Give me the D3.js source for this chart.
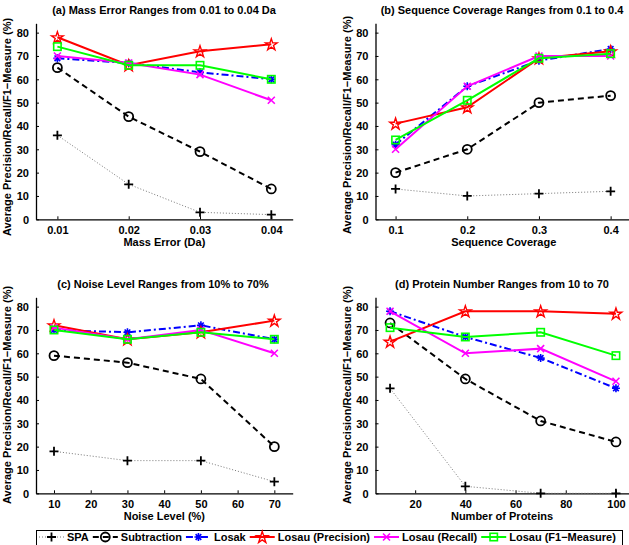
<!DOCTYPE html>
<html>
<head>
<meta charset="utf-8">
<script src="https://cdn.jsdelivr.net/npm/d3@7"></script>
<style>
  body { margin: 0; background: #fff; }
  svg text { font-family: "Liberation Sans", Arial, Helvetica, sans-serif; font-weight: bold; fill: #000; }
</style>
</head>
<body>
<div id="wrap"></div>
<script>
// series order used in every panel
const seriesNames = ["SPA", "Subtraction", "Losak", "Losau (Precision)", "Losau (Recall)", "Losau (F1\u2212Measure)"];

// (a) mass error
const massX = [0.01, 0.02, 0.03, 0.04];
const massTicks = [0.01, 0.02, 0.03, 0.04];
const massRows = [
  [36, 15, 3, 2],
  [65, 44, 29, 13],
  [69, 67, 63, 60],
  [78, 66, 72, 75],
  [70, 67, 62, 51],
  [74, 66, 66, 60]
];

// (b) sequence coverage
const coverX = [0.1, 0.2, 0.3, 0.4];
const coverTicks = [0.1, 0.2, 0.3, 0.4];
const coverRows = [
  [13, 10, 11, 12],
  [20, 30, 50, 53],
  [32, 57, 68, 73],
  [41, 48, 69, 72],
  [30, 57, 70, 70],
  [34, 51, 69, 71]
];

// (c) noise level
const noiseX = [10, 30, 50, 70];
const noiseTicks = [10, 20, 30, 40, 50, 60, 70];
const noiseRows = [
  [18, 14, 14, 5],
  [59, 56, 49, 20],
  [70, 69, 72, 66],
  [72, 66, 69, 74],
  [71, 66, 70, 60],
  [70, 66, 69, 66]
];

// (d) protein number
const protX = [10, 40, 70, 100];
const protTicks = [20, 40, 60, 80, 100];
const protRows = [
  [45, 3, 0, 0],
  [73, 49, 31, 22],
  [78, 67, 58, 45],
  [65, 78, 78, 77],
  [78, 60, 62, 48],
  [71, 67, 69, 59]
];

const yTicks = [0, 10, 20, 30, 40, 50, 60, 70, 80];
const yLabel = "Average Precision/Recall/F1\u2212Measure (%)";

const width = 629;
const height = 545;
const svg = d3.select("#wrap").append("svg")
  .attr("width", width)
  .attr("height", height);

// line / marker styles per series
const styles = [
  { color: "#777", width: 1, dash: "1,2", marker: "plus", mcolor: "#000" },
  { color: "#000", width: 2, dash: "6,4", marker: "circle", mcolor: "#000" },
  { color: "#0000ff", width: 2, dash: "7,3,2,3", marker: "asterisk", mcolor: "#0000ff" },
  { color: "#ff0000", width: 2, dash: null, marker: "star", mcolor: "#ff0000" },
  { color: "#ff00ff", width: 2, dash: null, marker: "cross", mcolor: "#ff00ff" },
  { color: "#00ff00", width: 2, dash: null, marker: "square", mcolor: "#00ff00" }
];

function drawMarker(g, type, x, y, color) {
  if (type === "plus") {
    g.append("path").attr("d", `M${x - 4.5},${y}H${x + 4.5}M${x},${y - 4.5}V${y + 4.5}`)
      .attr("stroke", color).attr("stroke-width", 1.8).attr("fill", "none");
  } else if (type === "circle") {
    g.append("circle").attr("cx", x).attr("cy", y).attr("r", 4.5)
      .attr("stroke", color).attr("stroke-width", 1.8).attr("fill", "none");
  } else if (type === "asterisk") {
    const r = 4, d = r * 0.707;
    g.append("path").attr("d", `M${x - r},${y}H${x + r}M${x},${y - r}V${y + r}M${x - d},${y - d}L${x + d},${y + d}M${x - d},${y + d}L${x + d},${y - d}`)
      .attr("stroke", color).attr("stroke-width", 1.6).attr("fill", "none");
  } else if (type === "star") {
    g.append("path").attr("d", d3.symbol(d3.symbolStar, 42)())
      .attr("transform", `translate(${x},${y + 0.5})`)
      .attr("stroke", color).attr("stroke-width", 1.4).attr("fill", "none");
  } else if (type === "cross") {
    const r = 3.5;
    g.append("path").attr("d", `M${x - r},${y - r}L${x + r},${y + r}M${x - r},${y + r}L${x + r},${y - r}`)
      .attr("stroke", color).attr("stroke-width", 1.6).attr("fill", "none");
  } else if (type === "square") {
    g.append("rect").attr("x", x - 3.7).attr("y", y - 3.7).attr("width", 7.4).attr("height", 7.4)
      .attr("stroke", color).attr("stroke-width", 1.6).attr("fill", "none");
  }
}

function drawPanel(p) {
  const x = d3.scaleLinear().domain(p.xDomain).range([p.left, p.right]);
  const y = d3.scaleLinear().domain([0, 84]).range([p.bottom, p.top]);
  const g = svg.append("g");

  // axes (MATLAB style: ticks inward, no box)
  const xAxis = d3.axisBottom(x).tickValues(p.ticks).tickFormat(p.fmt)
    .tickSizeInner(-3).tickSizeOuter(0).tickPadding(7);
  const gx = g.append("g").attr("transform", `translate(0,${p.bottom})`).call(xAxis);
  const yAxis = d3.axisLeft(y).tickValues(yTicks).tickSizeInner(-3).tickSizeOuter(0).tickPadding(7);
  const gy = g.append("g").attr("transform", `translate(${p.left},0)`).call(yAxis);
  [gx, gy].forEach(a => {
    a.select(".domain").attr("stroke", "#000").attr("stroke-width", 1.3);
    a.selectAll(".tick line").attr("stroke", "#000").attr("stroke-width", 1);
    a.selectAll(".tick text").style("font-size", "11px").attr("fill", "#000");
  });
  gy.selectAll(".tick text").attr("dy", "0.35em");

  g.append("text").attr("x", p.titleX).attr("y", p.top - 9)
    .attr("text-anchor", "middle").style("font-size", "11px").text(p.title);
  g.append("text").attr("x", (p.left + p.right) / 2).attr("y", p.bottom + 27)
    .attr("text-anchor", "middle").style("font-size", "11px").text(p.xLabel);
  g.append("text")
    .attr("transform", `translate(${p.left - 25},${p.yLabelY}) rotate(-90)`)
    .attr("text-anchor", "middle").style("font-size", "11px").text(yLabel);

  const line = d3.line().x(d => x(d[0])).y(d => y(d[1]));
  p.rows.forEach((row, i) => {
    const s = styles[i];
    const pts = p.xs.map((xv, k) => [xv, row[k]]);
    g.append("path").datum(pts).attr("d", line)
      .attr("fill", "none").attr("stroke", s.color).attr("stroke-width", s.width)
      .attr("stroke-dasharray", s.dash);
    pts.forEach(d => drawMarker(g, s.marker, x(d[0]), y(d[1]), s.mcolor));
  });
}

drawPanel({
  title: "(a) Mass Error Ranges from 0.01 to 0.04 Da", titleX: 164, xLabel: "Mass Error (Da)",
  left: 36, right: 292.7, top: 23.3, bottom: 219.3, yLabelY: 127,
  xDomain: [0.007, 0.043], ticks: massTicks, fmt: d3.format(".2f"), xs: massX, rows: massRows
});
drawPanel({
  title: "(b) Sequence Coverage Ranges from 0.1 to 0.4", titleX: 502, xLabel: "Sequence Coverage",
  left: 375.5, right: 632, top: 23.3, bottom: 219.3, yLabelY: 125,
  xDomain: [0.072, 0.4298], ticks: coverTicks, fmt: d3.format(".1f"), xs: coverX, rows: coverRows
});
drawPanel({
  title: "(c) Noise Level Ranges from 10% to 70%", titleX: 163, xLabel: "Noise Level (%)",
  left: 36, right: 292.7, top: 297.3, bottom: 493.3, yLabelY: 395,
  xDomain: [5.1, 75], ticks: noiseTicks, fmt: d3.format("d"), xs: noiseX, rows: noiseRows
});
drawPanel({
  title: "(d) Protein Number Ranges from 10 to 70", titleX: 502, xLabel: "Number of Proteins",
  left: 375.5, right: 628.5, top: 297.3, bottom: 493.3, yLabelY: 395,
  xDomain: [4.2, 105], ticks: protTicks, fmt: d3.format("d"), xs: protX, rows: protRows
});

// legend
const leg = svg.append("g");
leg.append("rect").attr("x", 36.5).attr("y", 530.5).attr("width", 586).attr("height", 20)
  .attr("fill", "#fff").attr("stroke", "#000").attr("stroke-width", 1);
let lx = 39;
const ly = 537;
seriesNames.forEach((name, i) => {
  const s = styles[i];
  leg.append("line").attr("x1", lx).attr("x2", lx + 25).attr("y1", ly).attr("y2", ly)
    .attr("stroke", s.color).attr("stroke-width", s.width).attr("stroke-dasharray", s.dash);
  drawMarker(leg, s.marker, lx + 12.5, ly, s.mcolor);
  const t = leg.append("text").attr("x", lx + 28).attr("y", ly).attr("dy", "0.35em")
    .style("font-size", "11px").text(name);
  lx += 28 + t.node().getComputedTextLength() + 4;
});
</script>
</body>
</html>
